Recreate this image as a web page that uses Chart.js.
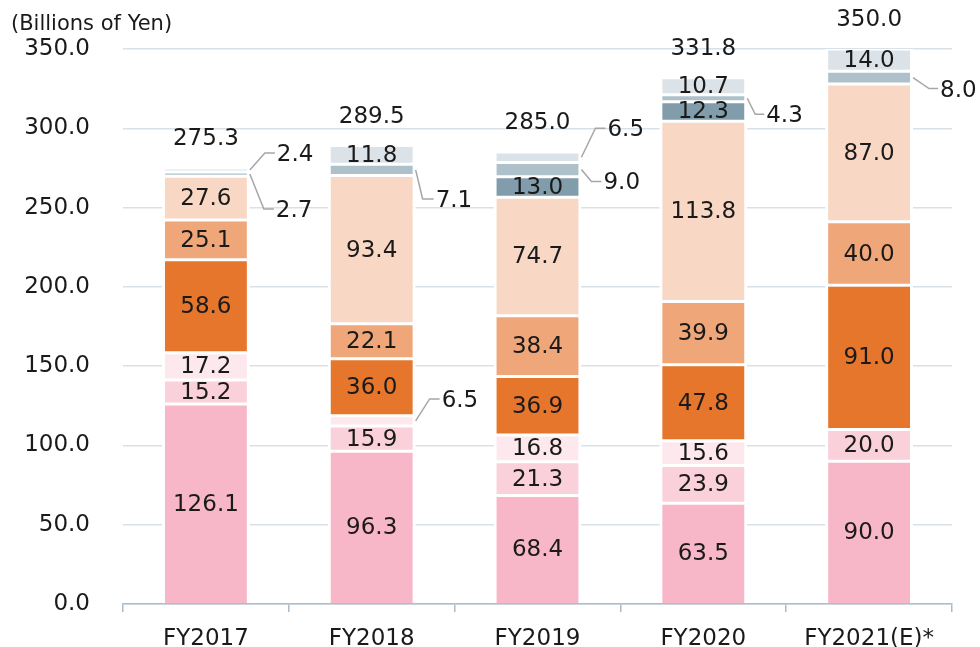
<!DOCTYPE html>
<html>
<head>
<meta charset="utf-8">
<script src="https://cdn.jsdelivr.net/npm/chart.js@4"></script>
<style>
  body { margin: 0; background: #fff; }
  #wrap { width: 980px; height: 647px; }
</style>
</head>
<body>
<div id="wrap"><canvas id="salesChart" width="980" height="647"></canvas></div>
<script>
// Categories and values (billions of yen), stacked bottom to top
const categories = ["FY2017", "FY2018", "FY2019", "FY2020", "FY2021(E)*"];
const totals = [275.3, 289.5, 285.0, 331.8, 350.0];

const seriesPink = [126.1, 96.3, 68.4, 63.5, 90.0];
const seriesLightPink = [15.2, 15.9, 21.3, 23.9, 20.0];
const seriesPalePink = [17.2, 6.5, 16.8, 15.6, null];
const seriesDarkOrange = [58.6, 36.0, 36.9, 47.8, 91.0];
const seriesOrange = [25.1, 22.1, 38.4, 39.9, 40.0];
const seriesPeach = [27.6, 93.4, 74.7, 113.8, 87.0];
const seriesDarkSlate = [null, null, 13.0, 12.3, null];
const seriesSlate = [2.7, 7.1, 9.0, 4.3, 8.0];
const seriesLightGray = [2.4, 11.8, 6.5, 10.7, 14.0];

const yMax = 350;
const yStep = 50;

const stackSeries = [
  seriesPink, seriesLightPink, seriesPalePink, seriesDarkOrange, seriesOrange,
  seriesPeach, seriesDarkSlate, seriesSlate, seriesLightGray
];
const colors = [
  "#F8B7C9", "#FAD0DB", "#FDE8ED", "#E5762C", "#EFA77A",
  "#F8D8C5", "#819CAB", "#AEC1CB", "#DCE3E8"
];

// labels drawn outside the bar with a leader line: dataset, bar, offsets
const callouts = [
  { ds: 8, i: 0, dx: 15, dy: -17, len: 10 },
  { ds: 7, i: 0, dx: 14, dy: 35, len: 10 },
  { ds: 7, i: 1, dx: 7, dy: 29, len: 11 },
  { ds: 2, i: 1, dx: 14, dy: -22, len: 10 },
  { ds: 8, i: 2, dx: 14, dy: -29, len: 10 },
  { ds: 7, i: 2, dx: 10, dy: 12, len: 10 },
  { ds: 7, i: 3, dx: 8, dy: 16, len: 9 },
  { ds: 7, i: 4, dx: 16, dy: 11, len: 9 }
];

const FONT = "DejaVu Sans, Verdana, sans-serif";
const TEXT = "#1a1a1a";

const labelPlugin = {
  id: "segmentLabels",
  afterDatasetsDraw(chart) {
    const ctx = chart.ctx;
    const yScale = chart.scales.y;
    ctx.save();
    ctx.font = "23px " + FONT;
    ctx.fillStyle = TEXT;
    ctx.textBaseline = "middle";

    chart.data.datasets.forEach((ds, d) => {
      const meta = chart.getDatasetMeta(d);
      meta.data.forEach((bar, i) => {
        const v = ds.data[i];
        if (v == null) return;
        const yc = (bar.y + bar.base) / 2;
        const co = callouts.find(c => c.ds === d && c.i === i);
        if (co) {
          const xr = bar.x + bar.width / 2;
          const yEnd = yc + co.dy;
          ctx.strokeStyle = "#A6A6A6";
          ctx.lineWidth = 1.5;
          ctx.beginPath();
          ctx.moveTo(xr, yc);
          ctx.lineTo(xr + co.dx, yEnd);
          ctx.lineTo(xr + co.dx + co.len, yEnd);
          ctx.stroke();
          ctx.textAlign = "left";
          ctx.fillText(v.toFixed(1), xr + co.dx + co.len + 2, yEnd + 2);
        } else {
          ctx.textAlign = "center";
          ctx.fillText(v.toFixed(1), bar.x, yc + 1);
        }
      });
    });

    // totals above each stack
    const meta0 = chart.getDatasetMeta(0);
    totals.forEach((t, i) => {
      const sum = stackSeries.reduce((a, s) => a + (s[i] || 0), 0);
      const top = yScale.getPixelForValue(sum);
      ctx.textAlign = "center";
      ctx.fillText(t.toFixed(1), meta0.data[i].x, top - 29);
    });

    // unit caption
    ctx.font = "21px " + FONT;
    ctx.textAlign = "left";
    ctx.fillText("(Billions of Yen)", 11, 25);
    ctx.restore();
  }
};

const ctx = document.getElementById("salesChart").getContext("2d");
new Chart(ctx, {
  type: "bar",
  data: {
    labels: categories,
    datasets: stackSeries.map((s, k) => ({
      data: s,
      backgroundColor: colors[k],
      borderColor: "#ffffff",
      borderWidth: { top: 1.5, bottom: k === 0 ? 0 : 1.5, left: 3, right: 3 },
      borderSkipped: false,
      barPercentage: 0.53,
      categoryPercentage: 1
    }))
  },
  options: {
    responsive: false,
    animation: false,
    layout: { padding: { left: 0, right: 28, top: 49, bottom: 0 } },
    plugins: {
      legend: { display: false },
      tooltip: { enabled: false }
    },
    scales: {
      x: {
        stacked: true,
        grid: {
          drawOnChartArea: false,
          drawTicks: true,
          tickLength: 8,
          color: "#A9BCCB",
          lineWidth: 1.5,
          offset: true
        },
        border: { color: "#A9BCCB", width: 1.5 },
        ticks: { font: { family: FONT, size: 23 }, color: TEXT, padding: 13 },
        afterFit: s => { s.height = 43; }
      },
      y: {
        stacked: true,
        min: 0,
        max: yMax,
        ticks: {
          stepSize: yStep,
          callback: v => v.toFixed(1),
          font: { family: FONT, size: 23 },
          color: TEXT,
          padding: 33
        },
        grid: { color: "#D9E1E8", lineWidth: 1.5, drawTicks: false },
        border: { display: false },
        afterFit: s => {
          s.width = 123;
          // tick padding would otherwise push the plot area up
          s.paddingTop = 0;
          s.paddingBottom = 0;
        }
      }
    }
  },
  plugins: [labelPlugin]
});
</script>
</body>
</html>
